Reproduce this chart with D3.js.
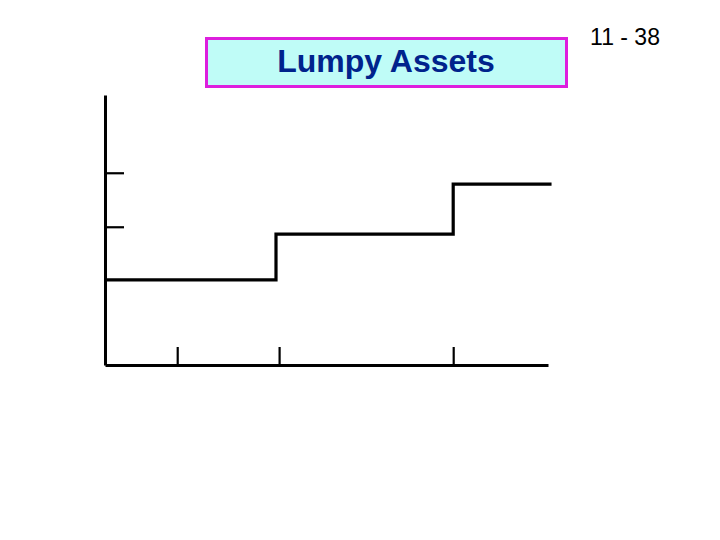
<!DOCTYPE html>
<html>
<head>
<meta charset="utf-8">
<script src="https://cdn.jsdelivr.net/npm/d3@7"></script>
<style>
  body { margin: 0; background: #fff; }
</style>
</head>
<body>
<div id="chart"></div>
<script>
var svgWidth = 720;
var svgHeight = 540;

// step levels of the asset (quantity where each lump starts, capacity level)
var stepStarts = [0, 38.6, 78.6, 100.8];
var stepLevels = [31.5, 48.5, 67, 67];

// unlabelled tick marks on each axis
var xTickValues = [16.3, 39.3, 78.6];
var yTickValues = [71.2, 51.2];

var titleText = "Lumpy Assets";
var slideNumber = "11 - 38";

var svg = d3.select("#chart")
  .append("svg")
  .attr("width", svgWidth)
  .attr("height", svgHeight);

var xScale = d3.scaleLinear().domain([0, 100]).range([105, 548]);
var yScale = d3.scaleLinear().domain([0, 100]).range([365, 95]);

// title box
svg.append("rect")
  .attr("x", 206.5)
  .attr("y", 38.5)
  .attr("width", 360)
  .attr("height", 48)
  .attr("fill", "#bffcf7")
  .attr("stroke", "#dd1fdd")
  .attr("stroke-width", 3);

svg.append("text")
  .attr("x", 386)
  .attr("y", 72)
  .attr("text-anchor", "middle")
  .attr("font-family", "Liberation Sans, Arial, sans-serif")
  .attr("font-weight", "bold")
  .attr("font-size", "32px")
  .attr("fill", "#00238c")
  .text(titleText);

svg.append("text")
  .attr("x", 625)
  .attr("y", 44.5)
  .attr("text-anchor", "middle")
  .attr("font-family", "Liberation Sans, Arial, sans-serif")
  .attr("font-size", "23px")
  .attr("fill", "#000")
  .text(slideNumber);

// axes, ticks pointing into the plot
var xAxis = svg.append("g")
  .attr("transform", `translate(0, ${yScale(0)})`)
  .call(d3.axisBottom(xScale)
    .tickValues(xTickValues)
    .tickSize(-18)
    .tickSizeOuter(0)
    .tickFormat(""));

var yAxis = svg.append("g")
  .attr("transform", `translate(${xScale(0)}, 0)`)
  .call(d3.axisLeft(yScale)
    .tickValues(yTickValues)
    .tickSize(-19)
    .tickSizeOuter(0)
    .tickFormat(""));

svg.selectAll(".domain")
  .attr("stroke", "#000")
  .attr("stroke-width", 3);
svg.selectAll(".tick line")
  .attr("stroke", "#000")
  .attr("stroke-width", 2.2);

// step line
var stepData = stepStarts.map((d, i) => ({ q: d, level: stepLevels[i] }));

var stepLine = d3.line()
  .x(d => xScale(d.q))
  .y(d => yScale(d.level))
  .curve(d3.curveStepAfter);

svg.append("path")
  .datum(stepData)
  .attr("d", stepLine)
  .attr("fill", "none")
  .attr("stroke", "#000")
  .attr("stroke-width", 3.2)
  .attr("stroke-linejoin", "miter");
</script>
</body>
</html>
